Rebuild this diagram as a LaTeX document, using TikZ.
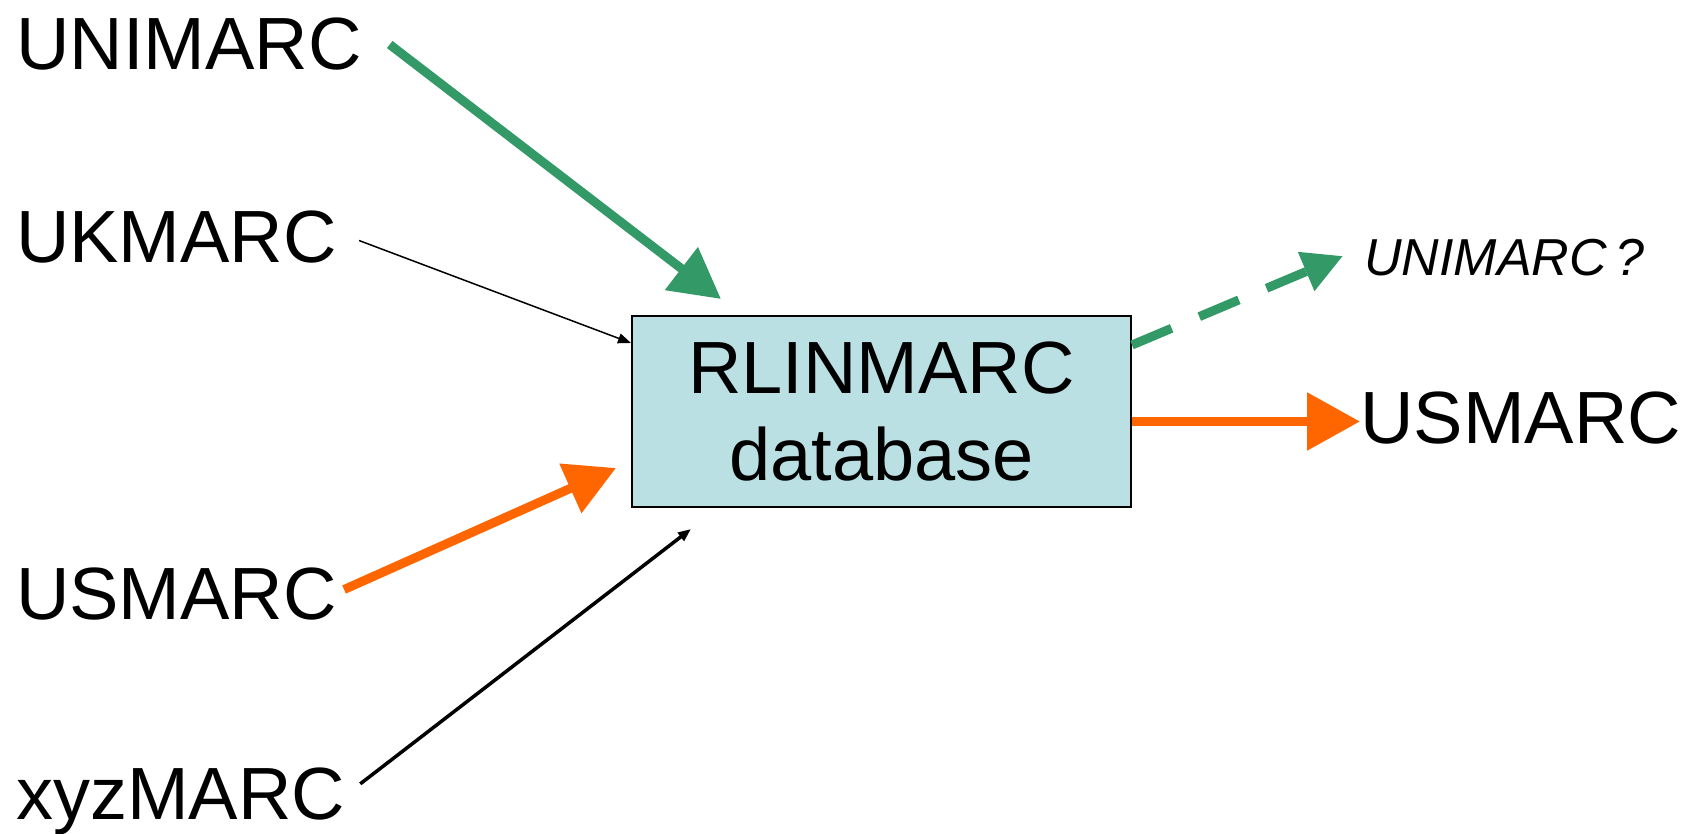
\documentclass[tikz,border=0pt]{standalone}
\usepackage{fontspec}
\setmainfont{Liberation Sans}
\usetikzlibrary{arrows.meta}
\definecolor{marcgreen}{HTML}{339966}
\definecolor{marcorange}{HTML}{FF6600}
\definecolor{dbblue}{HTML}{BBE0E3}
\tikzset{
  format/.style   = {inner sep=0pt, font=\fontsize{74}{87}\selectfont},
  guess/.style    = {inner sep=0pt, font=\fontsize{52}{60}\selectfont\itshape},
  db/.style       = {shape=rectangle, draw, line width=2pt, fill=dbblue,
                     align=center, inner sep=0pt,
                     minimum width=499pt, minimum height=191pt,
                     font=\fontsize{74}{87}\selectfont},
  bigfeed/.style  = {line width=9pt, -{Triangle[length=50pt,width=52pt]}},
  thinfeed/.style = {black, line width=2pt, -{Triangle[length=13pt,width=10pt]}}
}

\begin{document}
\begin{tikzpicture}[x=1pt,y=-1pt]
  \useasboundingbox (0,0) rectangle (1695,834);
  % the database in the middle
  \node [db] (db) at (881.5,411.5) {RLINMARC\\database};
  % formats coming in
  \node [format, anchor=base west] (unimarc) at (16,70) {UNIMARC};
  \node [format, anchor=base west] (ukmarc) at (16,263) {UKMARC};
  \node [format, anchor=base west] (usmarcin) at (16,619) {USMARC};
  \node [format, anchor=base west] (xyzmarc) at (16,819) {xyzMARC};
  % formats going out
  \node [guess, anchor=base west] (unimarcout) at (1364,276) {UNIMARC\,?};
  \node [format, anchor=base west] (usmarcout) at (1360,443) {USMARC};
  % free ends of the arrows
  \coordinate (unitip) at (721,299);
  \coordinate (ustip) at (616,468);
  \coordinate (xyztip) at (691,529);
  \coordinate (guesstip) at (1343,256);

  \draw [marcgreen, bigfeed] ([xshift=28pt]unimarc.east) -- (unitip);
  \draw [thinfeed, line width=1.5pt] ([xshift=22pt,yshift=-3pt]ukmarc.east) -- ([yshift=-28pt]db.north west);
  \draw [marcorange, bigfeed] ([xshift=7pt,yshift=4pt]usmarcin.east) -- (ustip);
  \draw [thinfeed, line width=3.5pt] ([xshift=15pt,yshift=17pt]xyzmarc.east) -- (xyztip);
  \draw [marcgreen, line width=9pt, dash pattern=on 43pt off 30pt,
         -{Triangle[length=40pt,width=40pt]}] ([yshift=-30pt]db.north east) -- (guesstip);
  \draw [marcorange, line width=9pt, -{Triangle[length=53pt,width=56pt]}]
        ([yshift=-10pt]db.east) -- ([yshift=-10pt]db.east -| usmarcout.west);
\end{tikzpicture}
\end{document}
